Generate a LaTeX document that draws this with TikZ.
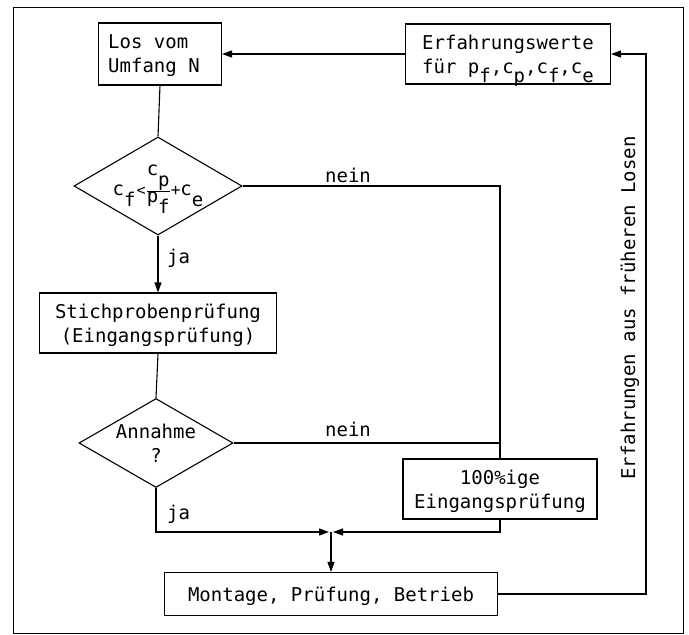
\documentclass[tikz,border=0pt]{standalone}
\usepackage{fontspec}
\setmonofont{DejaVu Sans Mono}
\usetikzlibrary{shapes.geometric,arrows.meta}
\newcommand{\lowr}[1]{\raisebox{-0.6em}{#1}}
\newcommand{\lowrb}[1]{\raisebox{-0.5em}{#1}}
\begin{document}
\begin{tikzpicture}[x=1pt,y=-1pt,
  every node/.style={font=\ttfamily\fontsize{19}{24}\selectfont},
  box/.style={draw,line width=1.1pt,inner sep=0pt,text depth=0pt},
  dia/.style={draw,diamond,line width=1.1pt,inner sep=0pt},
  lab/.style={inner sep=0pt,anchor=base},
  flow/.style={line width=1.1pt},
  arr/.style={flow,-{Triangle[length=10pt,width=7pt]}},
]
\useasboundingbox (0,0) rectangle (689,635);
\draw[line width=1pt] (13,7) rectangle (683,633);

\node[box,align=left,minimum width=123,minimum height=62] (los) at (160,54) {Los vom\\Umfang N\hspace*{12pt}};
\node[box,align=left,minimum width=205,minimum height=60] (erf) at (508,54)
  {Erfahrungswerte\\für p\lowrb{f},c\lowrb{p},c\lowrb{f},c\lowrb{e}};
\node[dia,minimum width=168,minimum height=98,
  label={[name=d1t,inner sep=0pt,yshift=-3pt]center:{$\mbox{c\lowr{f}}\mbox{\fontsize{15}{15}\selectfont\kern1pt<}\frac{\mbox{c\lowr{p}}}{\mbox{p\lowr{f}}}\mbox{\fontsize{16}{16}\selectfont+}\mbox{c\lowr{e}}$}}] (d1) at (158,186) {};
\node[box,align=center,minimum width=237,minimum height=60] (sti) at (158,323) {Stichprobenprüfung\\(Eingangsprüfung)};
\node[dia,minimum width=154,minimum height=89,
  label={[name=d2t,inner sep=0pt,align=center]center:{Annahme\\?}}] (d2) at (156,443) {};
\node[box,align=center,minimum width=194,minimum height=60] (hun) at (500,489) {100\%ige\\Eingangsprüfung};
\node[box,minimum width=333,minimum height=43] (mon) at (331,594) {Montage, Prüfung, Betrieb};

\coordinate (m) at (331,532);
\coordinate (mL) at (329,532);
\coordinate (mR) at (333,532);
\coordinate (r) at (646,300);

\draw[arr] (erf.west) -- (los.east);
\draw[flow] (los.south) -- (d1.north);
\draw[arr] (d1.south) -- (sti.north);
\draw[flow] (sti.south) -- (d2.north);
\draw[flow] (d1.east) -| (hun.north);
\draw[flow] (d2.east) -- (d2.east -| hun.north);
\draw[arr] (d2.south) |- (mL);
\draw[arr] (hun.south) |- (mR);
\draw[arr] (m) -- (mon.north);
\draw[arr] (mon.east) -| (r) |- (erf.east);

\node[lab] (n1) at (348,182) {nein};
\node[lab] (n2) at (348,436) {nein};
\node[lab,anchor=base west] (j1) at (167,263) {ja};
\node[lab,anchor=base west] (j2) at (167,519) {ja};
\node[rotate=90,inner sep=0pt] (rot) at (630,308) {Erfahrungen aus früheren Losen};
\end{tikzpicture}
\end{document}
